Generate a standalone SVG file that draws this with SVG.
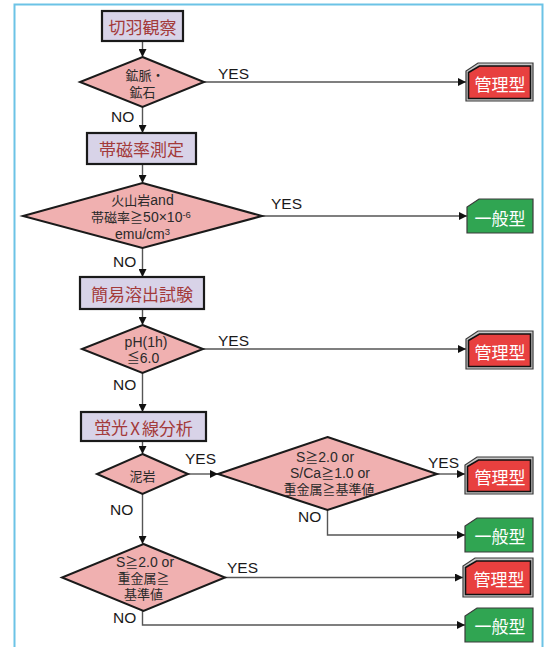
<svg xmlns="http://www.w3.org/2000/svg" width="544" height="647" viewBox="0 0 544 647">
<defs>
<style>
.frame{fill:none;stroke:#6cc3e6;stroke-width:2}
.proc rect{fill:#d8d3e8;stroke:#1a1a1a;stroke-width:2.2}
.proc text{font-family:"Noto Sans CJK JP","Liberation Sans",sans-serif;font-size:17px;fill:#a33a3a;text-anchor:middle;dominant-baseline:central}
.dec polygon{fill:#f0b0b0;stroke:#1a1a1a;stroke-width:2}
.dec text{font-family:"Liberation Sans","Noto Sans CJK JP",sans-serif;font-size:13px;fill:#2a2a2a;text-anchor:middle;dominant-baseline:central}
.dec .lt{font-size:14px}
.red .o{fill:#c8c8c8;stroke:#3a3a3a;stroke-width:1.2}
.red .i{fill:#e8403f;stroke:#111;stroke-width:1.6}
.green polygon{fill:#30a552;stroke:#3a3a3a;stroke-width:1.2}
.term text{font-family:"Noto Sans CJK JP","Liberation Sans",sans-serif;font-size:17px;fill:#ffffff;text-anchor:middle;dominant-baseline:central}
.conn path{fill:none;stroke:#555;stroke-width:1.4}
.lbl{font-family:"Liberation Sans",sans-serif;font-size:15.5px;fill:#1a1a1a}
</style>
<marker id="ah" markerUnits="userSpaceOnUse" markerWidth="9" markerHeight="8" refX="8" refY="4" orient="auto">
<path d="M0,0 L8,4 L0,8 z" fill="#111"/>
</marker>
</defs>
<rect width="544" height="647" fill="#ffffff"/>
<path class="frame" d="M14.5,647 V4.5 H542.5 V647"/>

<g id="connectors" class="conn">
<path d="M142.5,41 V57" marker-end="url(#ah)"/>
<path d="M204,82 H466" marker-end="url(#ah)"/>
<path d="M142.5,107 V133" marker-end="url(#ah)"/>
<path d="M142.5,164 V183" marker-end="url(#ah)"/>
<path d="M262,216 H467" marker-end="url(#ah)"/>
<path d="M142.5,248 V277" marker-end="url(#ah)"/>
<path d="M142.5,309 V325" marker-end="url(#ah)"/>
<path d="M203,349 H466" marker-end="url(#ah)"/>
<path d="M142.5,373 V412" marker-end="url(#ah)"/>
<path d="M142.5,441 V454" marker-end="url(#ah)"/>
<path d="M188,474 H218" marker-end="url(#ah)"/>
<path d="M437,474 H465" marker-end="url(#ah)"/>
<path d="M327.5,510 V535 H465" marker-end="url(#ah)"/>
<path d="M142.5,494 V544" marker-end="url(#ah)"/>
<path d="M225,577.5 H463" marker-end="url(#ah)"/>
<path d="M142.5,611 V625 H465" marker-end="url(#ah)"/>
</g>

<g id="labels">
<text class="lbl" x="218" y="79">YES</text>
<text class="lbl" x="111" y="122">NO</text>
<text class="lbl" x="271" y="209">YES</text>
<text class="lbl" x="113" y="267">NO</text>
<text class="lbl" x="218" y="346">YES</text>
<text class="lbl" x="113" y="390">NO</text>
<text class="lbl" x="185" y="464">YES</text>
<text class="lbl" x="110" y="515">NO</text>
<text class="lbl" x="428" y="468">YES</text>
<text class="lbl" x="298" y="522">NO</text>
<text class="lbl" x="227" y="573">YES</text>
<text class="lbl" x="113" y="623">NO</text>
</g>

<g id="n-kiriha" class="proc"><rect x="102" y="11" width="81" height="30"/><text x="142.5" y="26">切羽観察</text></g>
<g id="n-kosmyaku" class="dec"><polygon points="142.5,57 204,82 142.5,107 80,82"/><text x="145" y="75.5">鉱脈・</text><text x="142.5" y="92">鉱石</text></g>
<g id="n-kanri1" class="term red"><polygon class="o" points="478,63 533,63 533,101 466,101 466,71"/><polygon class="i" points="479.5,66 530.5,66 530.5,98.5 468.5,98.5 468.5,72.5"/><text x="500" y="83">管理型</text></g>

<g id="n-taijiritsu" class="proc"><rect x="87" y="133" width="109" height="31"/><text x="141.5" y="148.5">帯磁率測定</text></g>
<g id="n-kazan" class="dec"><polygon points="142.5,183 262,216 142.5,248 23,216"/><text x="142.5" y="200">火山岩<tspan class="lt">and</tspan></text><text x="141" y="217">帯磁率≧<tspan class="lt">50×10</tspan><tspan font-size="9.5" dy="-3">-6</tspan></text><text x="142.5" y="233.5" class="lt">emu/cm<tspan font-size="9.5" dy="-3">3</tspan></text></g>
<g id="n-ippan1" class="term green"><polygon points="479,199 533,199 533,233 467,233 467,207"/><text x="500" y="217">一般型</text></g>

<g id="n-kanni" class="proc"><rect x="80" y="277" width="124" height="32"/><text x="142" y="293">簡易溶出試験</text></g>
<g id="n-ph" class="dec"><polygon points="142.5,325 203,349 142.5,373 82,349"/><text x="146" y="341.5" class="lt">pH(1h)</text><text x="143" y="357.5">≦<tspan class="lt">6.0</tspan></text></g>
<g id="n-kanri2" class="term red"><polygon class="o" points="478,331 533,331 533,369 466,369 466,339"/><polygon class="i" points="479.5,334 530.5,334 530.5,366.5 468.5,366.5 468.5,340.5"/><text x="500" y="351">管理型</text></g>

<g id="n-keiko" class="proc"><rect x="81" y="412" width="125" height="29"/><text x="143.5" y="426.5">蛍光<tspan dx="2">X</tspan><tspan dx="2">線分析</tspan></text></g>
<g id="n-deigan" class="dec"><polygon points="142.5,454 188,474 142.5,494 97,474"/><text x="142.5" y="476">泥岩</text></g>
<g id="n-s1" class="dec"><polygon points="327.5,437 437,474 327.5,510 218,474"/><text x="325" y="457"><tspan class="lt">S</tspan>≧<tspan class="lt">2.0 or</tspan></text><text x="330" y="473"><tspan class="lt">S/Ca</tspan>≧<tspan class="lt">1.0 or</tspan></text><text x="329" y="489">重金属≧基準値</text></g>
<g id="n-kanri3" class="term red"><polygon class="o" points="477,457 533,457 533,494 465,494 465,465"/><polygon class="i" points="478.5,460 530.5,460 530.5,491.5 467.5,491.5 467.5,466.5"/><text x="500" y="476">管理型</text></g>
<g id="n-ippan2" class="term green"><polygon points="477,518 533,518 533,552 465,552 465,526"/><text x="500" y="535.5">一般型</text></g>

<g id="n-s2" class="dec"><polygon points="143.5,544 225,577.5 143.5,611 62,577.5"/><text x="145" y="562"><tspan class="lt">S</tspan>≧<tspan class="lt">2.0 or</tspan></text><text x="143.5" y="578">重金属≧</text><text x="143.5" y="594">基準値</text></g>
<g id="n-kanri4" class="term red"><polygon class="o" points="475,558 533,558 533,597 463,597 463,566"/><polygon class="i" points="476.5,561 530.5,561 530.5,594.5 465.5,594.5 465.5,567.5"/><text x="499" y="578">管理型</text></g>
<g id="n-ippan3" class="term green"><polygon points="477,608 533,608 533,642 465,642 465,616"/><text x="500" y="625.5">一般型</text></g>
</svg>
